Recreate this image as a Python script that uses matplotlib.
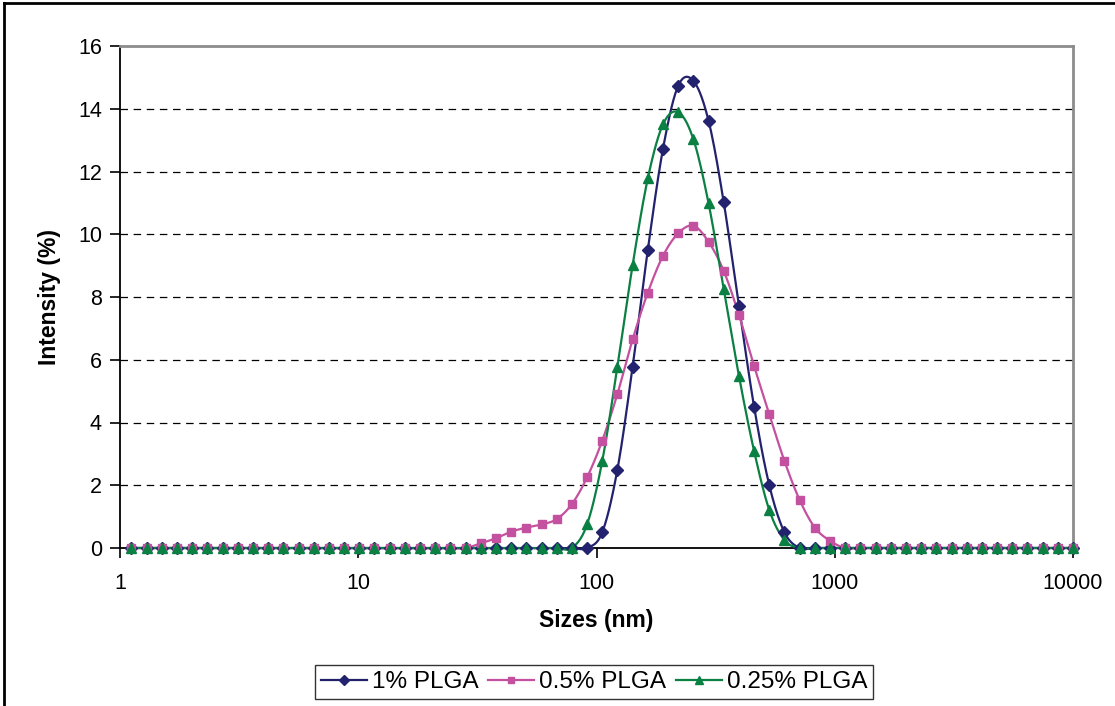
import numpy as np
import matplotlib
matplotlib.use("Agg")
import matplotlib.pyplot as plt
from matplotlib.lines import Line2D

plt.rcParams['font.family'] = ['Liberation Sans', 'DejaVu Sans']

# Size classes (nm), log-spaced bins
sizes = [
    1.117, 1.294, 1.499, 1.736, 2.010, 2.328, 2.696, 3.122, 3.615, 4.187,
    4.849, 5.615, 6.503, 7.531, 8.721, 10.10, 11.70, 13.54, 15.69, 18.17,
    21.04, 24.36, 28.21, 32.67, 37.84, 43.82, 50.75, 58.77, 68.06, 78.82,
    91.28, 105.7, 122.4, 141.8, 164.2, 190.1, 220.2, 255.0, 295.3, 342.0,
    396.1, 458.7, 531.2, 615.1, 712.4, 825.0, 955.4, 1106, 1281, 1484,
    1718, 1990, 2305, 2669, 3091, 3580, 4145, 4801, 5560, 6439,
    7456, 8635, 10000,
]

# Intensity (%) per size class
plga_1 = [
    0, 0, 0, 0, 0, 0, 0, 0, 0, 0,
    0, 0, 0, 0, 0, 0, 0, 0, 0, 0,
    0, 0, 0, 0, 0, 0, 0, 0, 0, 0,
    0, 0.5, 2.5, 5.78, 9.5, 12.72, 14.73, 14.89, 13.62, 11.02,
    7.71, 4.5, 2.0, 0.5, 0, 0, 0, 0, 0, 0,
    0, 0, 0, 0, 0, 0, 0, 0, 0, 0,
    0, 0, 0,
]
plga_05 = [
    0, 0, 0, 0, 0, 0, 0, 0, 0, 0,
    0, 0, 0, 0, 0, 0, 0, 0, 0, 0,
    0, 0, 0, 0.15, 0.31, 0.52, 0.65, 0.75, 0.92, 1.40,
    2.25, 3.42, 4.91, 6.65, 8.14, 9.31, 10.03, 10.27, 9.76, 8.83,
    7.43, 5.8, 4.26, 2.77, 1.53, 0.65, 0.23, 0, 0, 0,
    0, 0, 0, 0, 0, 0, 0, 0, 0, 0,
    0, 0, 0,
]
plga_025 = [
    0, 0, 0, 0, 0, 0, 0, 0, 0, 0,
    0, 0, 0, 0, 0, 0, 0, 0, 0, 0,
    0, 0, 0, 0, 0, 0, 0, 0, 0, 0,
    0.75, 2.77, 5.78, 9.02, 11.78, 13.5, 13.89, 13.03, 10.99, 8.25,
    5.49, 3.09, 1.21, 0.25, 0, 0, 0, 0, 0, 0,
    0, 0, 0, 0, 0, 0, 0, 0, 0, 0,
    0, 0, 0,
]

labels = ["1% PLGA", "0.5% PLGA", "0.25% PLGA"]
colors = ["#22226e", "#c4519f", "#0b8043"]
markers = ["D", "s", "^"]
msizes = [6.0, 5.5, 7.5]
y_ticks = [0, 2, 4, 6, 8, 10, 12, 14, 16]
x_ticks = [1, 10, 100, 1000, 10000]
x_ticklabels = ["1", "10", "100", "1000", "10000"]

W, H = 1115, 706
fig = plt.figure(figsize=(W / 100, H / 100), dpi=100)
ax = fig.add_axes([120 / W, 1 - 548 / H, (1073 - 120) / W, (548 - 46) / H])
ax.set_xscale("log")
ax.set_xlim(1, 10000)
ax.set_ylim(0, 16)


def smooth(xs, ys, n=16):
    """Catmull-Rom smoothing done in display space, mapped back to data."""
    pts = ax.transData.transform(np.column_stack([xs, ys]))
    p = np.vstack([pts[0], pts, pts[-1]])
    out = []
    t = np.linspace(0, 1, n, endpoint=False)[:, None]
    for i in range(1, len(p) - 2):
        p0, p1, p2, p3 = p[i - 1], p[i], p[i + 1], p[i + 2]
        c1 = p1 + (p2 - p0) / 6
        c2 = p2 - (p3 - p1) / 6
        seg = ((1 - t) ** 3) * p1 + 3 * ((1 - t) ** 2) * t * c1 \
            + 3 * (1 - t) * t ** 2 * c2 + t ** 3 * p2
        out.append(seg)
    out.append(p[-2][None, :])
    d = ax.transData.inverted().transform(np.vstack(out))
    return d[:, 0], d[:, 1]


for yy in y_ticks[1:-1]:
    ax.axhline(yy, color="black", lw=0.9, ls=(0, (6, 4.5)), zorder=1)

for vals, lab, col, mk, ms in zip([plga_1, plga_05, plga_025], labels,
                                  colors, markers, msizes):
    sx, sy = smooth(sizes, vals)
    ax.plot(sx, sy, color=col, lw=1.6, zorder=3, clip_on=False)
    ax.plot(sizes, vals, ls="none", marker=mk, ms=ms, color=col,
            mec=col, zorder=4, clip_on=False)

ax.set_xticks(x_ticks)
ax.set_xticklabels(x_ticklabels)
ax.xaxis.set_minor_locator(matplotlib.ticker.NullLocator())
ax.set_yticks(y_ticks)
ax.tick_params(axis="both", direction="out", length=7, width=1.2,
               labelsize=15.5, colors="black")
ax.tick_params(axis="y", pad=6)
ax.tick_params(axis="x", pad=11)

for side in ("top", "right"):
    ax.spines[side].set_color("#8c8c8c")
    ax.spines[side].set_linewidth(2)
for side in ("left", "bottom"):
    ax.spines[side].set_color("black")
    ax.spines[side].set_linewidth(1.3)

ax.set_xlabel("Sizes (nm)", fontsize=16.5, fontweight="bold", labelpad=11)
ax.set_ylabel("Intensity (%)", fontsize=16.5, fontweight="bold", labelpad=12)

handles = [Line2D([], [], color=c, marker=m, ms=s * 0.8, lw=1.6)
           for c, m, s in zip(colors, markers, msizes)]
leg = fig.legend(handles, labels, loc="center", ncol=3,
                 bbox_to_anchor=(594 / W, 1 - 682 / H), fontsize=17.5,
                 frameon=True, fancybox=False, handlelength=1.9,
                 handletextpad=0.2, columnspacing=0.4, borderpad=0.25,
                 borderaxespad=0)
leg.get_frame().set_edgecolor("black")
leg.get_frame().set_linewidth(1.0)

# Outer chart frame (top and left edges)
fig.add_artist(Line2D([4 / W, 1], [1 - 3 / H, 1 - 3 / H],
                      transform=fig.transFigure, color="black", lw=2))
fig.add_artist(Line2D([4 / W, 4 / W], [0, 1 - 3 / H],
                      transform=fig.transFigure, color="black", lw=2))

fig.savefig("out.png", dpi=100)
